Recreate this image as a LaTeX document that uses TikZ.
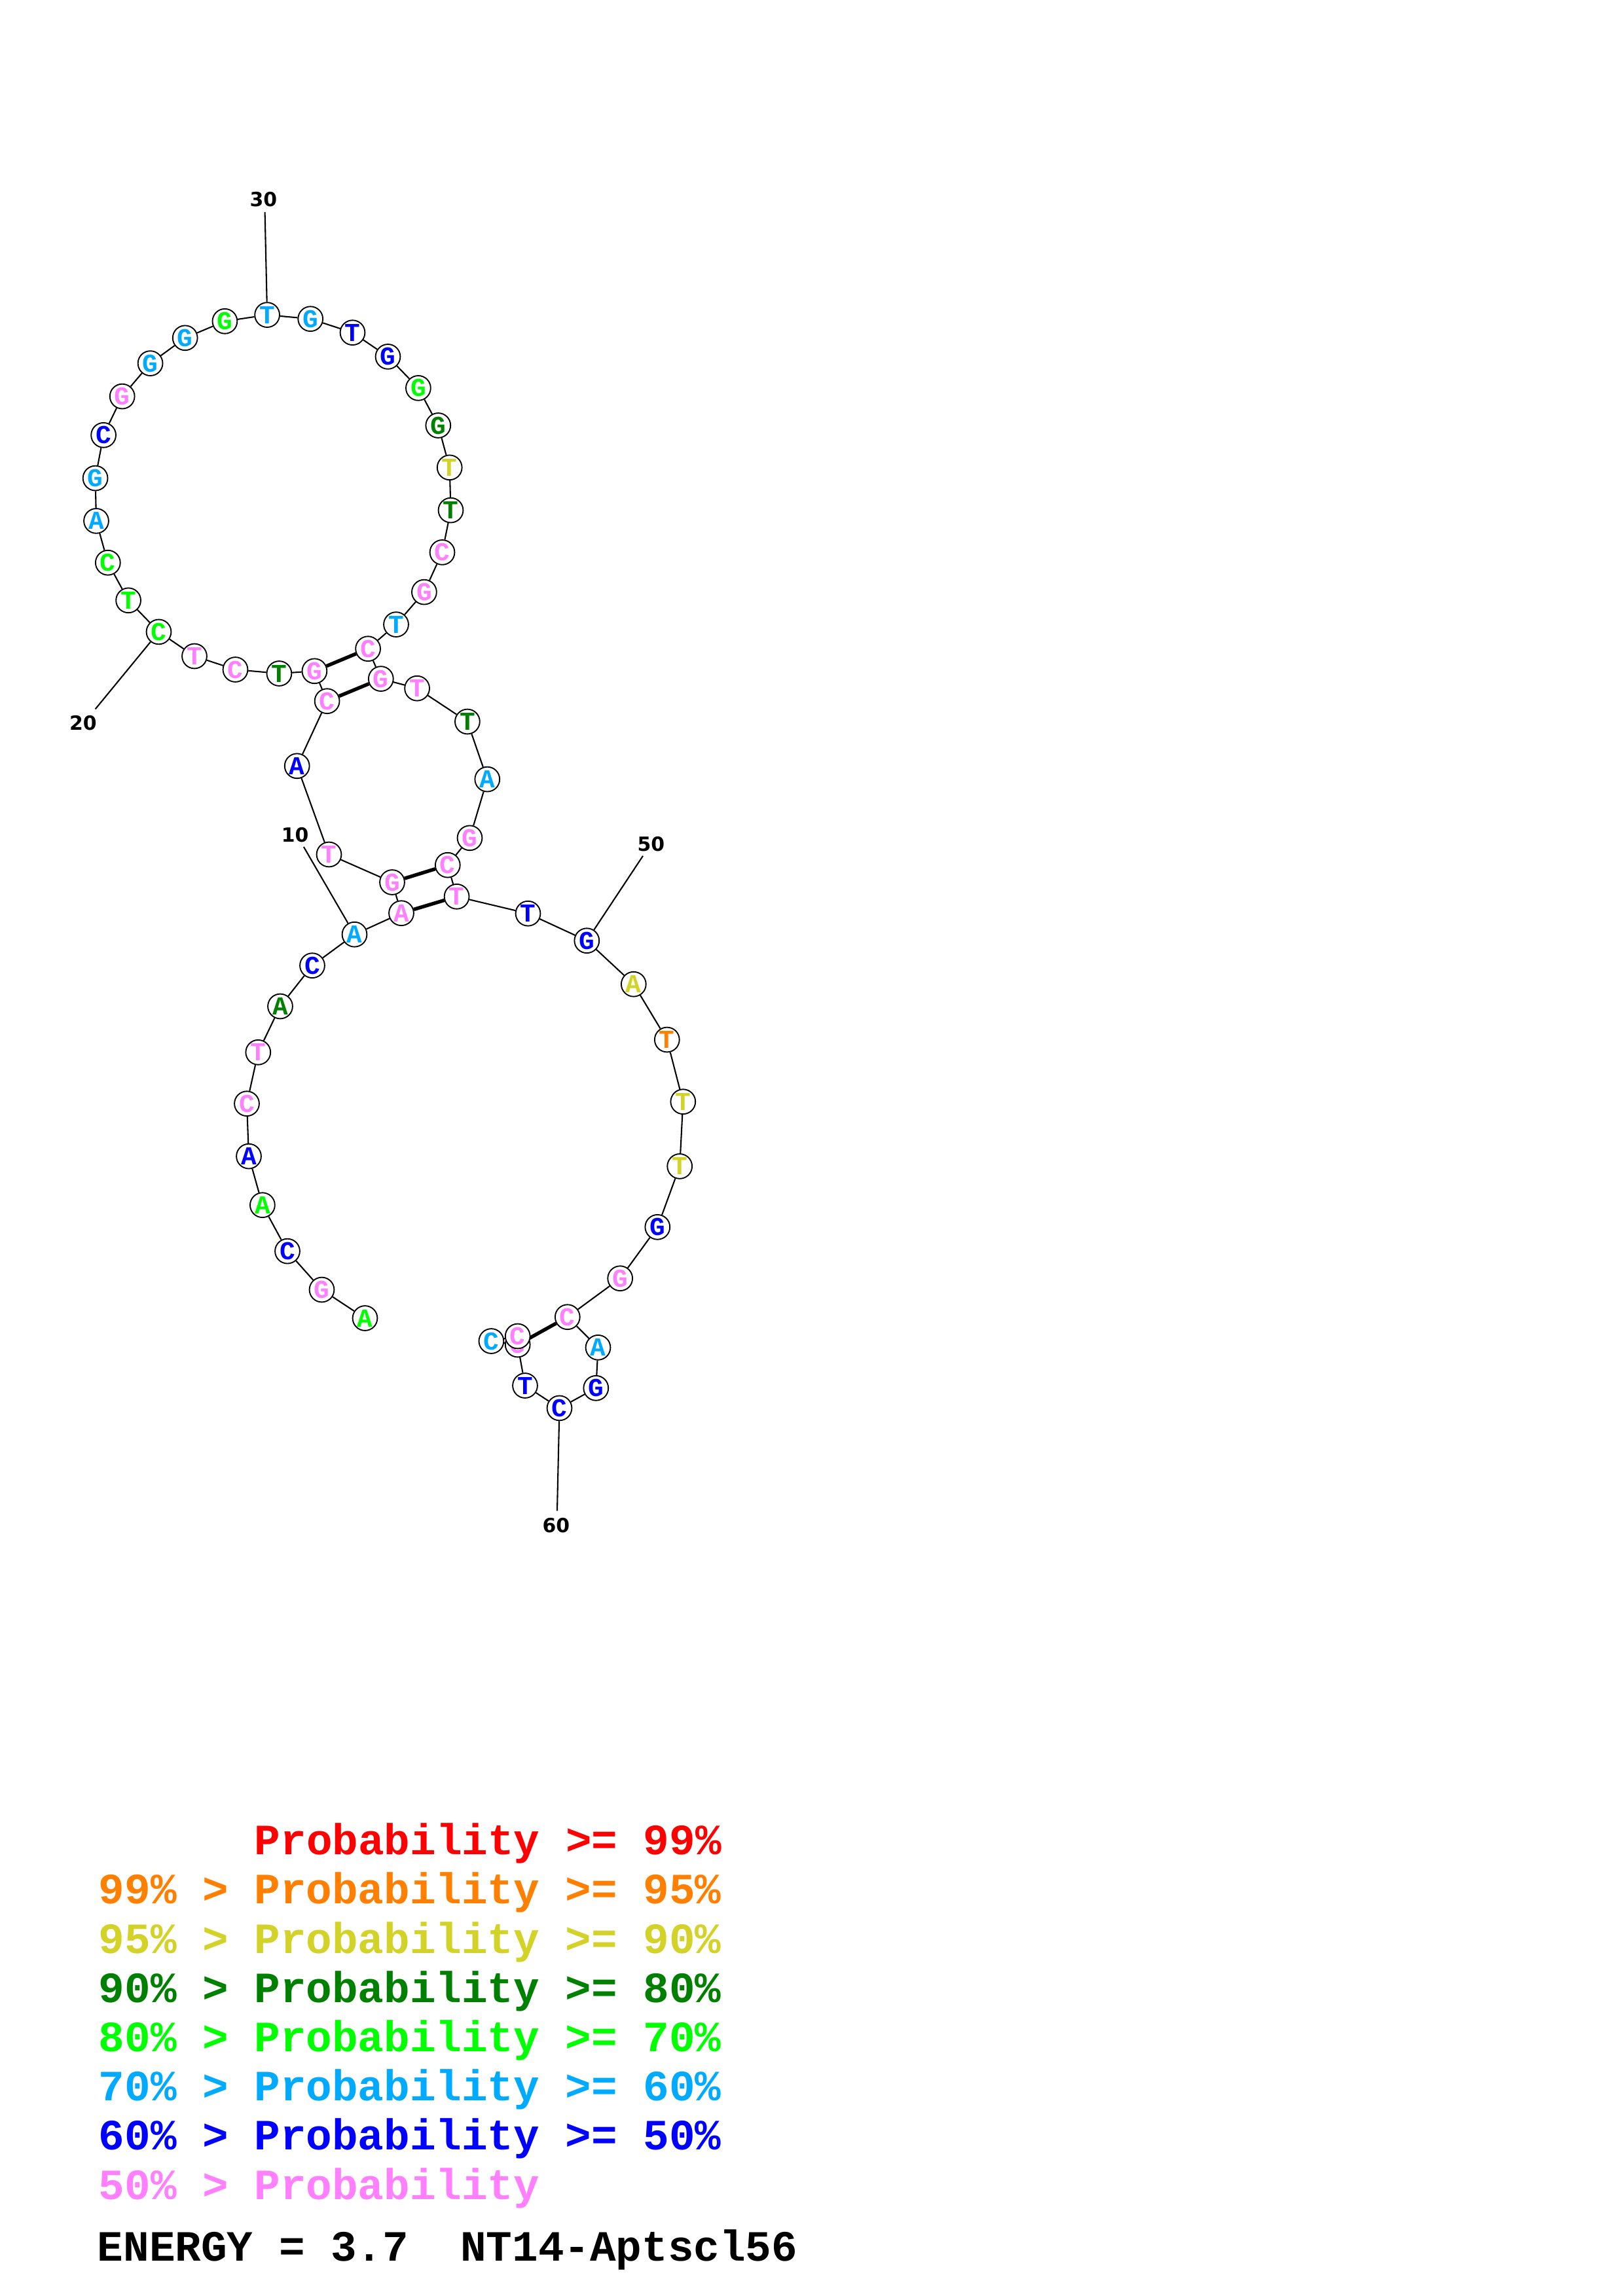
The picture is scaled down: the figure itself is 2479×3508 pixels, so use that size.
\documentclass[tikz,border=0pt]{standalone}
\usepackage{fontspec}
\newfontfamily\seqfont{Liberation Mono}
\newfontfamily\numfont{DejaVu Sans}
\definecolor{prob100}{RGB}{255,0,0}
\definecolor{prob99}{RGB}{255,128,0}
\definecolor{prob95}{RGB}{210,210,40}
\definecolor{prob90}{RGB}{0,128,0}
\definecolor{prob80}{RGB}{0,255,0}
\definecolor{prob70}{RGB}{0,170,255}
\definecolor{prob60}{RGB}{0,0,255}
\definecolor{prob50}{RGB}{255,128,255}
\pgfdeclarelayer{background}
\pgfsetlayers{background,main}

\begin{document}
\begin{tikzpicture}[x=0.0846667mm,y=-0.0846667mm,
  base/.style={circle,draw,fill=white,line width=0.45pt,minimum size=3.2mm,inner sep=0pt,font=\seqfont\bfseries\fontsize{9.5}{9.5}\selectfont},
  bb/.style={line width=0.5pt},
  pair/.style={line width=1.3pt},
  num/.style={font=\numfont\bfseries\fontsize{7.2}{7.2}\selectfont},
  legend/.style={anchor=base west,inner sep=0pt,font=\seqfont\bfseries\fontsize{15.9}{15.9}\selectfont}]
\useasboundingbox (0,0) rectangle (2479,3508);

% 5' tail and first helix
\node[base,text=prob80] (n1) at (557.5,2014) {A};
\node[base,text=prob50] (n2) at (491.5,1970.5) {G};
\node[base,text=prob60] (n3) at (439,1911.6) {C};
\node[base,text=prob80] (n4) at (400.9,1841.2) {A};
\node[base,text=prob60] (n5) at (380,1766.6) {A};
\node[base,text=prob50] (n6) at (377,1686.2) {C};
\node[base,text=prob50] (n7) at (394.3,1607.8) {T};
\node[base,text=prob90] (n8) at (428,1537.5) {A};
\node[base,text=prob60] (n9) at (477,1475.2) {C};
\node[base,text=prob70] (n10) at (541.5,1427.7) {A};
\node[base,text=prob50] (n11) at (613,1395.2) {A};
\node[base,text=prob50] (n12) at (599,1348) {G};
\node[base,text=prob50] (n13) at (502.5,1305.5) {T};
\node[base,text=prob60] (n14) at (453.7,1170.3) {A};
\node[base,text=prob50] (n15) at (499.6,1071.2) {C};
\node[base,text=prob50] (n16) at (480.4,1025.3) {G};
% big hairpin loop
\node[base,text=prob90] (n17) at (426.4,1029) {T};
\node[base,text=prob50] (n18) at (359.5,1023) {C};
\node[base,text=prob50] (n19) at (297,1002.5) {T};
\node[base,text=prob80] (n20) at (242.5,965.4) {C};
\node[base,text=prob80] (n21) at (196.1,917.3) {T};
\node[base,text=prob80] (n22) at (164.8,859.7) {C};
\node[base,text=prob70] (n23) at (147,795.9) {A};
\node[base,text=prob70] (n24) at (145.6,730.6) {G};
\node[base,text=prob60] (n25) at (158.1,664.8) {C};
\node[base,text=prob50] (n26) at (186.7,605.6) {G};
\node[base,text=prob70] (n27) at (229.6,555.1) {G};
\node[base,text=prob70] (n28) at (282.7,516.3) {G};
\node[base,text=prob80] (n29) at (343.4,490.8) {G};
\node[base,text=prob70] (n30) at (408.1,481.1) {T};
\node[base,text=prob70] (n31) at (474.2,487.2) {G};
\node[base,text=prob60] (n32) at (538.5,508.2) {T};
\node[base,text=prob60] (n33) at (592.5,544.9) {G};
\node[base,text=prob80] (n34) at (638.9,592.9) {G};
\node[base,text=prob90] (n35) at (669.3,650) {G};
\node[base,text=prob95] (n36) at (686.7,714.3) {T};
\node[base,text=prob90] (n37) at (688.5,779.6) {T};
\node[base,text=prob50] (n38) at (675.5,843.9) {C};
\node[base,text=prob50] (n39) at (647.9,904.6) {G};
\node[base,text=prob70] (n40) at (605,954.1) {T};
\node[base,text=prob50] (n41) at (562.1,991.2) {C};
% internal loop
\node[base,text=prob50] (n42) at (581.8,1037.1) {G};
\node[base,text=prob50] (n43) at (637.1,1051.7) {T};
\node[base,text=prob90] (n44) at (713.9,1102.5) {T};
\node[base,text=prob70] (n45) at (744.3,1190.6) {A};
\node[base,text=prob50] (n46) at (717.5,1280.3) {G};
\node[base,text=prob50] (n47) at (683.8,1321.7) {C};
\node[base,text=prob50] (n48) at (697.6,1369.8) {T};
% 3' side
\node[base,text=prob60] (n49) at (806.5,1395.7) {T};
\node[base,text=prob60] (n50) at (896.3,1437.2) {G};
\node[base,text=prob95] (n51) at (967.8,1503.7) {A};
\node[base,text=prob99] (n52) at (1018.8,1588.5) {T};
\node[base,text=prob95] (n53) at (1043.3,1683.2) {T};
\node[base,text=prob95] (n54) at (1038.2,1781.9) {T};
\node[base,text=prob60] (n55) at (1004.3,1874.8) {G};
\node[base,text=prob50] (n56) at (947.2,1953.2) {G};
\node[base,text=prob50] (n57) at (866.8,2012.2) {C};
\node[base,text=prob70] (n58) at (913.5,2058.8) {A};
\node[base,text=prob60] (n59) at (910.3,2120.8) {G};
\node[base,text=prob60] (n60) at (854.5,2151.4) {C};
\node[base,text=prob60] (n61) at (802,2117) {T};
\node[base,text=prob50] (n62) at (790.7,2054.5) {G};
\node[base,text=prob70] (n63) at (750.4,2049) {C};
\node[base,text=prob50] (n64) at (790.7,2041.5) {C};

\begin{pgfonlayer}{background}
\draw[bb] (n1) -- (n2) -- (n3) -- (n4) -- (n5) -- (n6) -- (n7) -- (n8) -- (n9) -- (n10)
  -- (n11) -- (n12) -- (n13) -- (n14) -- (n15) -- (n16) -- (n17) -- (n18) -- (n19) -- (n20)
  -- (n21) -- (n22) -- (n23) -- (n24) -- (n25) -- (n26) -- (n27) -- (n28) -- (n29) -- (n30)
  -- (n31) -- (n32) -- (n33) -- (n34) -- (n35) -- (n36) -- (n37) -- (n38) -- (n39) -- (n40)
  -- (n41) -- (n42) -- (n43) -- (n44) -- (n45) -- (n46) -- (n47) -- (n48) -- (n49) -- (n50)
  -- (n51) -- (n52) -- (n53) -- (n54) -- (n55) -- (n56) -- (n57) -- (n58) -- (n59) -- (n60)
  -- (n61) -- (n62) -- (n63) -- (n64);
% pairs
\draw[pair] (n16) -- (n41);
\draw[pair] (n15) -- (n42);
\draw[pair] (n12) -- (n47);
\draw[pair] (n11) -- (n48);
\draw[pair] (n57) -- (n62);
\end{pgfonlayer}

% numbering
\node[num] (l10) at (450.7,1275.7) {10};
\node[num] (l20) at (126.9,1104.5) {20};
\node[num] (l30) at (402.3,305) {30};
\node[num] (l50) at (994.3,1289.3) {50};
\node[num] (l60) at (849.4,2330.3) {60};
\coordinate (t10) at (463.9,1293.9);
\coordinate (t20) at (145.6,1083.4);
\coordinate (t30) at (404.6,324);
\coordinate (t50) at (982,1307.7);
\coordinate (t60) at (851,2308.3);
\draw[bb] (n10) -- (t10);
\draw[bb] (n20) -- (t20);
\draw[bb] (n30) -- (t30);
\draw[bb] (n50) -- (t50);
\draw[bb] (n60) -- (t60);

% legend
\node[legend,text=prob100] (k1) at (388,2833.7) {Probability >= 99\%};
\node[legend,text=prob99] (k2) at (150,2908.9) {99\% > Probability >= 95\%};
\node[legend,text=prob95] (k3) at (150,2984.1) {95\% > Probability >= 90\%};
\node[legend,text=prob90] (k4) at (150,3059.3) {90\% > Probability >= 80\%};
\node[legend,text=prob80] (k5) at (150,3134.5) {80\% > Probability >= 70\%};
\node[legend,text=prob70] (k6) at (150,3209.7) {70\% > Probability >= 60\%};
\node[legend,text=prob60] (k7) at (150,3284.9) {60\% > Probability >= 50\%};
\node[legend,text=prob50] (k8) at (150,3360.1) {50\% > Probability};
\node[legend] (energy) at (148,3454) {ENERGY = 3.7\ \ NT14-Aptscl56};
\end{tikzpicture}
\end{document}
